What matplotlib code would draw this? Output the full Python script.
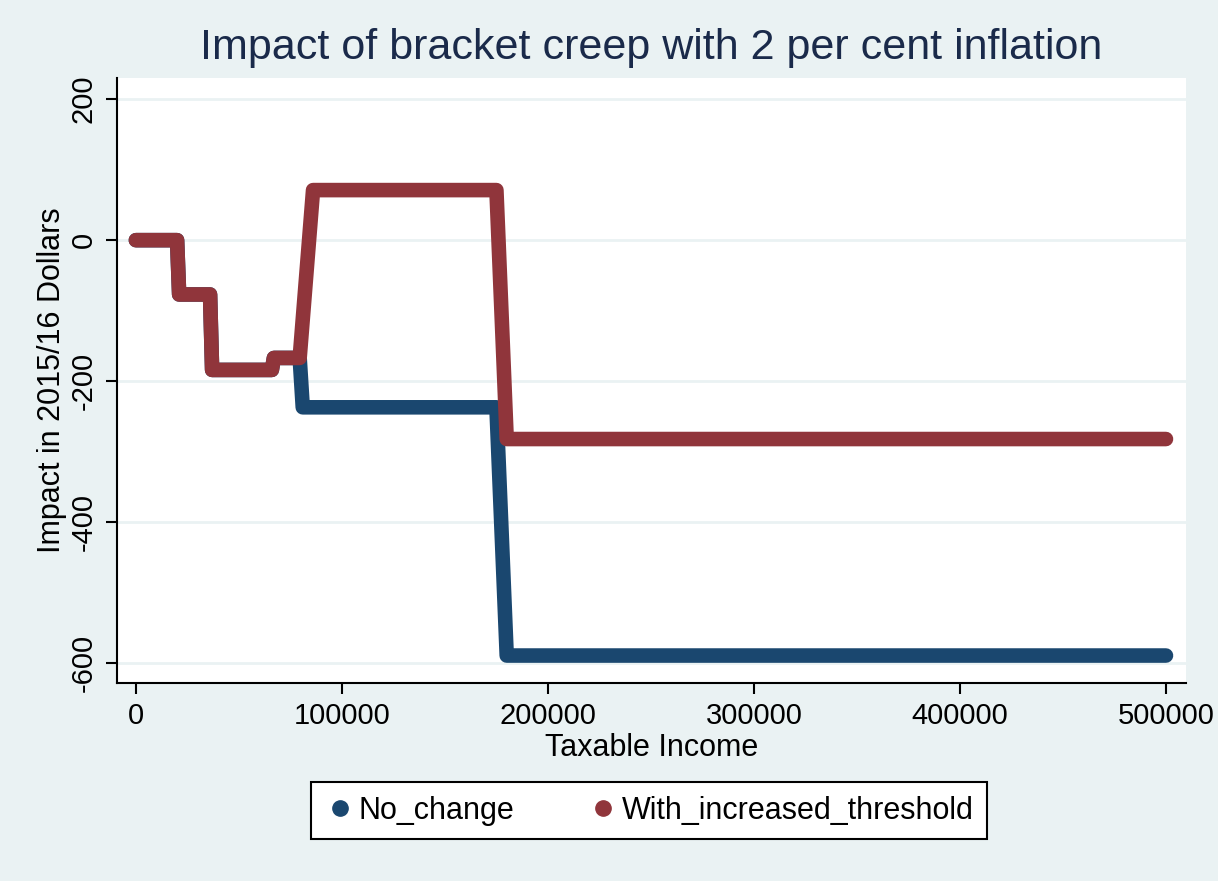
import matplotlib.pyplot as plt
from matplotlib.lines import Line2D

plt.rcParams['font.family'] = ['Liberation Sans', 'DejaVu Sans']

# taxable income breakpoints and impact (2015/16 dollars)
income_no_change = [0, 20000, 21000, 36000, 37000, 66000, 67000, 79500, 81000, 175000, 180000, 500000]
no_change = [0, 0, -77, -77, -184, -184, -167, -167, -237, -237, -589, -589]

income_increased = [0, 20000, 21000, 36000, 37000, 66000, 67000, 79500, 86000, 175000, 180000, 500000]
with_increased_threshold = [0, 0, -77, -77, -184, -184, -167, -167, 71, 71, -282, -282]

yticks = [-600, -400, -200, 0, 200]
xticks = [0, 100000, 200000, 300000, 400000, 500000]

bg = '#eaf2f3'
navy = '#1a476f'
maroon = '#90353b'

fig = plt.figure(figsize=(12.18, 8.81), dpi=100, facecolor=bg)
ax = fig.add_axes([0.096, 0.2247, 0.8777, 0.6868])
ax.set_facecolor('white')

ax.plot(income_no_change, no_change, color=navy, lw=10.5,
        solid_capstyle='round', solid_joinstyle='round', zorder=3)
ax.plot(income_increased, with_increased_threshold, color=maroon, lw=10.5,
        solid_capstyle='round', solid_joinstyle='round', zorder=4)

ax.set_xlim(-9200, 509700)
ax.set_ylim(-628, 230)
ax.set_xticks(xticks)
ax.set_xticklabels([str(t) for t in xticks])
ax.set_yticks(yticks)
ax.set_yticklabels([str(t) for t in yticks], rotation=90, va='center')

for s in ['top', 'right']:
    ax.spines[s].set_visible(False)
for s in ['left', 'bottom']:
    ax.spines[s].set_linewidth(1.5)
ax.tick_params(direction='out', length=8, width=1.5, labelsize=21, pad=6)
ax.yaxis.grid(True, color=bg, lw=2)
ax.set_axisbelow(True)

ax.set_xlabel('Taxable Income', fontsize=22, labelpad=2)
ax.set_ylabel('Impact in 2015/16 Dollars', fontsize=22, labelpad=2)
ax.set_title('Impact of bracket creep with 2 per cent inflation',
             fontsize=31, color='#1a2a4a', pad=14)

handles = [Line2D([], [], marker='o', ls='none', color=navy, markersize=11),
           Line2D([], [], marker='o', ls='none', color=maroon, markersize=11)]
leg = fig.legend(handles, ['No_change', 'With_increased_threshold'],
                 loc='center', bbox_to_anchor=(0.533, 0.08), ncol=2,
                 fontsize=22, frameon=True, fancybox=False, edgecolor='black',
                 framealpha=1, handletextpad=0.1, columnspacing=2.4,
                 borderpad=0.45, handlelength=1.0)
leg.get_frame().set_linewidth(1.5)

fig.savefig('out.png', dpi=100, facecolor=bg)
